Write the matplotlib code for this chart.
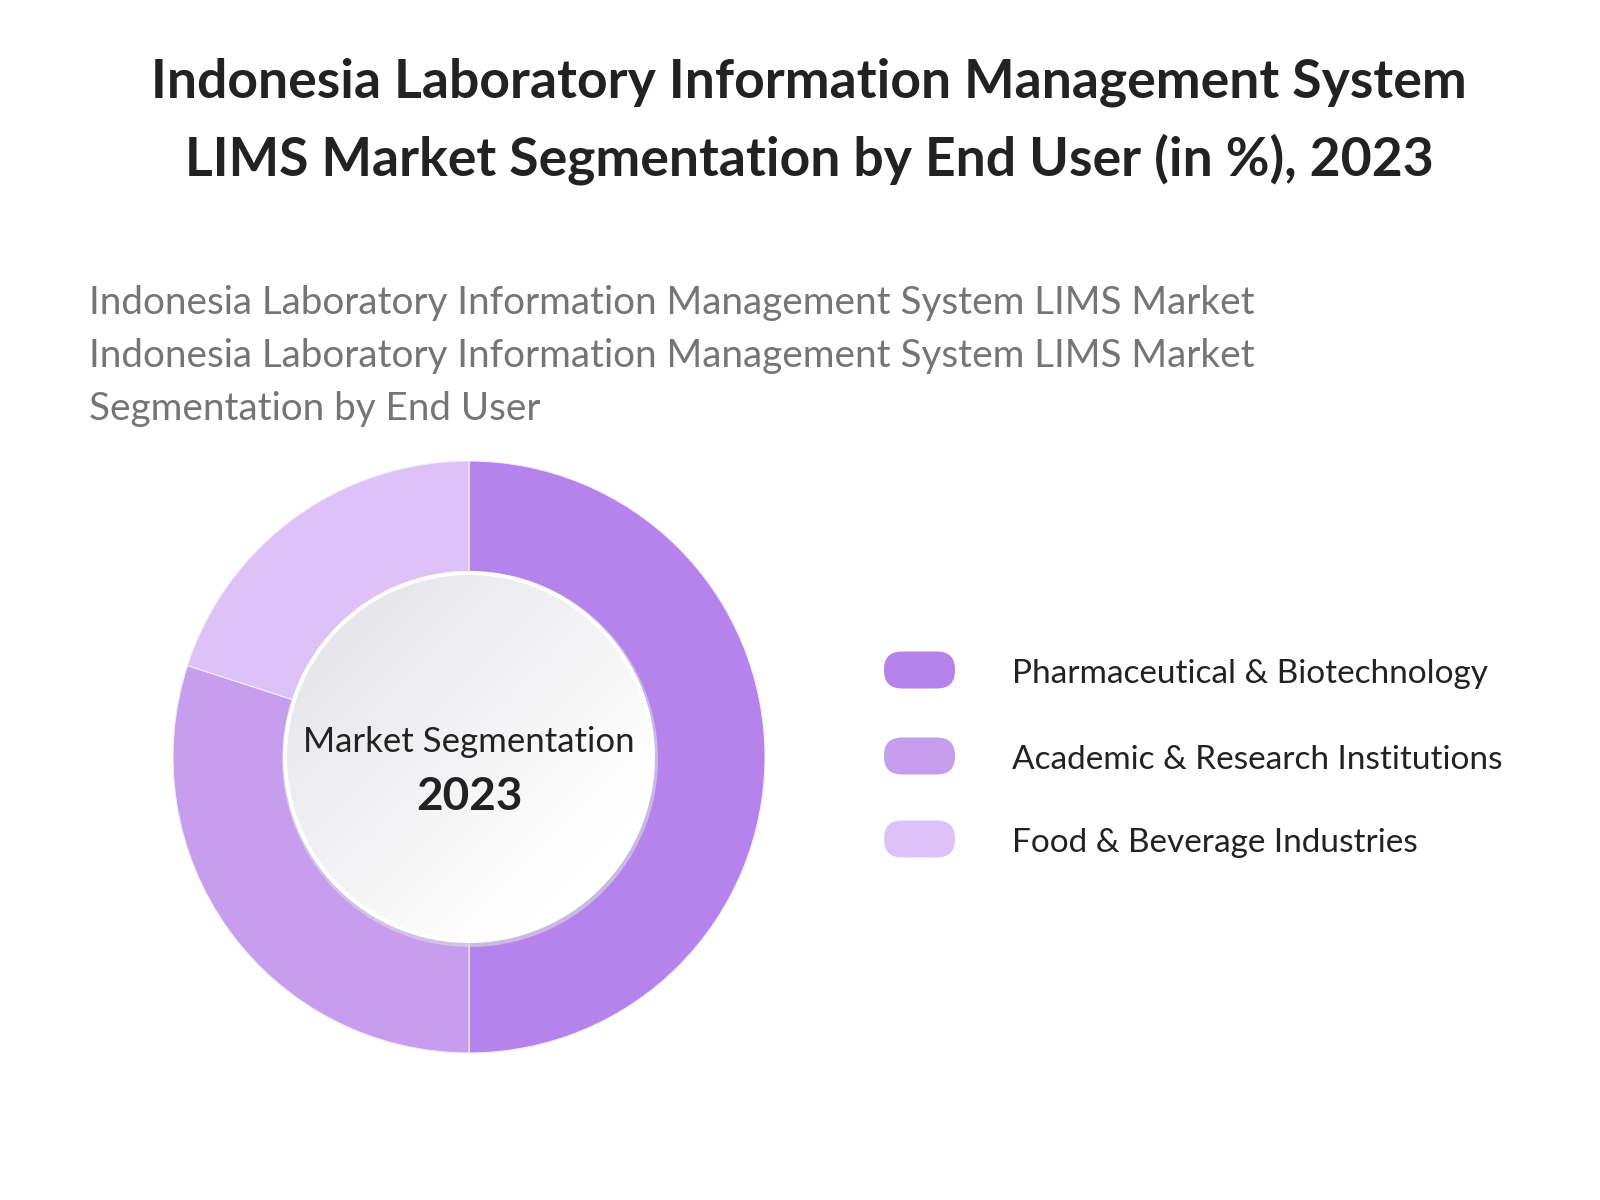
import numpy as np
import matplotlib
matplotlib.use("Agg")
import matplotlib.pyplot as plt
from matplotlib.patches import Circle, FancyBboxPatch

plt.rcParams['font.family'] = ['Lato', 'DejaVu Sans']

title = "Indonesia Laboratory Information Management System\nLIMS Market Segmentation by End User (in %), 2023"
subtitle = ["Indonesia Laboratory Information Management System LIMS Market",
            "Indonesia Laboratory Information Management System LIMS Market",
            "Segmentation by End User"]
segments = ["Pharmaceutical & Biotechnology", "Academic & Research Institutions", "Food & Beverage Industries"]
shares = [50, 30, 20]
colors = ["#B583EB", "#C79DEE", "#DDC2F7"]

W, H = 1600, 1200
fig = plt.figure(figsize=(16, 12), dpi=100)
ax = fig.add_axes([0, 0, 1, 1])

def Y(y):
    # image pixel row -> data y
    return H - y

cx, cy = 469, Y(757)
R = 296
r_hole = 186

ax.pie(shares, colors=colors, startangle=90, counterclock=False,
       center=(cx, cy), radius=R, wedgeprops=dict(linewidth=0.8, edgecolor='#f4ecfc'))

# soft edge + white ring of the hole
ax.add_patch(Circle((cx + 1, cy - 2), r_hole + 2, facecolor='#dcdce0', edgecolor='none', alpha=0.6, zorder=3))
ax.add_patch(Circle((cx, cy), r_hole, facecolor='white', edgecolor='none', zorder=4))
# gradient fill inside
n = 300
gx, gy = np.meshgrid(np.linspace(0, 1, n), np.linspace(0, 1, n))
t = np.clip((gx + gy) / 2.0, 0, 1)  # 0 top-left, 1 bottom-right
t = np.clip(t * 1.25, 0, 1)
c0 = np.array([0.886, 0.886, 0.906])
c1 = np.array([1.0, 1.0, 1.0])
img = c0[None, None, :] * (1 - t[..., None]) + c1[None, None, :] * t[..., None]
ri = r_hole - 4
im = ax.imshow(img, extent=(cx - ri, cx + ri, cy - ri, cy + ri), origin='upper', zorder=5)
im.set_clip_path(Circle((cx, cy), ri, transform=ax.transData))

ax.text(cx, Y(742), "Market Segmentation", ha='center', va='center', fontsize=25, color='#222222', zorder=6)
ax.text(cx, Y(797), "2023", ha='center', va='center', fontsize=33, fontweight='bold', color='#222222', zorder=6)

# title
ax.text(809, Y(82), title.split("\n")[0], ha='center', va='center', fontsize=38.5, fontweight='bold', color='#222222')
ax.text(809, Y(159), title.split("\n")[1], ha='center', va='center', fontsize=38.5, fontweight='bold', color='#222222')

# subtitle
for i, line in enumerate(subtitle):
    ax.text(89, Y(303 + i * 53), line, ha='left', va='center', fontsize=27.8, color='#757575')

# legend
leg_y = [670, 756, 839]
for name, col, ly in zip(segments, colors, leg_y):
    ax.add_patch(FancyBboxPatch((884 + 18, Y(ly) - 0.5), 71 - 36, 1,
                                boxstyle="round,pad=18", facecolor=col, edgecolor='none'))
    ax.text(1012, Y(ly + 4), name, ha='left', va='center', fontsize=24, color='#222222')

ax.set_xlim(0, W)
ax.set_ylim(0, H)
ax.set_aspect('auto')
ax.axis('off')

fig.savefig("out.png", dpi=100, facecolor='white')
